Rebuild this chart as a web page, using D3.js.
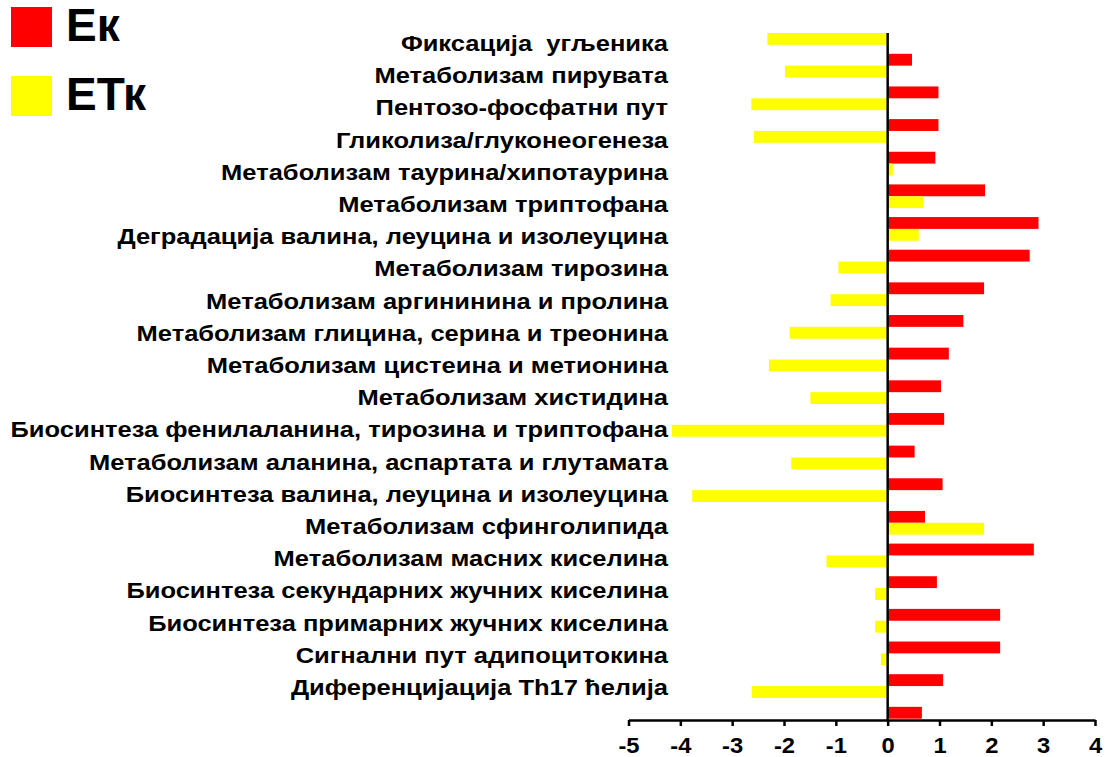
<!DOCTYPE html>
<html>
<head>
<meta charset="utf-8">
<script src="https://cdn.jsdelivr.net/npm/d3@7"></script>
<style>
  html, body { margin: 0; padding: 0; background: #fff; }
  svg { display: block; }
  text { font-family: "Liberation Sans", Arial, sans-serif; font-weight: bold; fill: #000; white-space: pre; }
</style>
</head>
<body>
<svg id="chart" width="1107" height="757"></svg>
<script>
const categories = [
  "Фиксација  угљеника",
  "Метаболизам пирувата",
  "Пентозо-фосфатни пут",
  "Гликолиза/глуконеогенеза",
  "Метаболизам таурина/хипотаурина",
  "Метаболизам триптофана",
  "Деградација валина, леуцина и изолеуцина",
  "Метаболизам тирозина",
  "Метаболизам аргининина и пролина",
  "Метаболизам глицина, серина и треонина",
  "Метаболизам цистеина и метионина",
  "Метаболизам хистидина",
  "Биосинтеза фенилаланина, тирозина и триптофана",
  "Метаболизам аланина, аспартата и глутамата",
  "Биосинтеза валина, леуцина и изолеуцина",
  "Метаболизам сфинголипида",
  "Метаболизам масних киселина",
  "Биосинтеза секундарних жучних киселина",
  "Биосинтеза примарних жучних киселина",
  "Сигнални пут адипоцитокина",
  "Диференцијација Th17 ћелија"
];
const seriesNames = ["ЕТк", "Ек"];
const valuesETk = [-2.32, -1.98, -2.63, -2.58, 0.10, 0.69, 0.60, -0.95, -1.10, -1.89, -2.29, -1.49, -4.16, -1.86, -3.77, 1.86, -1.18, -0.24, -0.24, -0.13, -2.62];
const valuesEk  = [0.47, 0.98, 0.98, 0.92, 1.88, 2.91, 2.74, 1.86, 1.46, 1.18, 1.03, 1.09, 0.52, 1.06, 0.72, 2.82, 0.95, 2.17, 2.17, 1.07, 0.66];
const xTicks = [-5, -4, -3, -2, -1, 0, 1, 2, 3, 4];
const xTickLabels = ["-5", "-4", "-3", "-2", "-1", "0", "1", "2", "3", "4"];
const legendItems = ["Ек", "ЕТк"];
const colors = { "Ек": "#ff0000", "ЕТк": "#ffff00" };

const svg = d3.select("#chart");

const x = d3.scaleLinear().domain([-5, 4]).range([628.5, 1095]);
const y = d3.scaleBand().domain(categories).range([33, 718.7]).padding(0);
const ySub = d3.scaleBand().domain(seriesNames).range([0, y.bandwidth()]).paddingInner(0.43).paddingOuter(0);
// category text positions (labels sit on their own evenly spaced column)
const yLabel = d3.scalePoint().domain(categories).range([43.6, 687.4]);

const rows = categories.map((c, i) => ({ cat: c, "ЕТк": valuesETk[i], "Ек": valuesEk[i] }));

const g = svg.append("g");
rows.forEach(r => {
  seriesNames.forEach(s => {
    const v = r[s];
    g.append("rect")
      .attr("x", x(Math.min(0, v)))
      .attr("y", y(r.cat) + ySub(s))
      .attr("width", Math.abs(x(v) - x(0)))
      .attr("height", ySub.bandwidth())
      .attr("fill", colors[s]);
  });
});

// category labels
svg.append("g").selectAll("text")
  .data(categories)
  .join("text")
  .attr("transform", d => `translate(668,${yLabel(d) + 7.5}) scale(1.16,1)`)
  .attr("text-anchor", "end")
  .attr("font-size", 22)
  .text(d => d);

// zero line
svg.append("line")
  .attr("x1", x(0)).attr("x2", x(0))
  .attr("y1", 33).attr("y2", 720)
  .attr("stroke", "#000").attr("stroke-width", 2.5);

// x axis
const axis = svg.append("g")
  .attr("transform", "translate(0,720)")
  .call(d3.axisBottom(x).tickValues(xTicks).tickSize(6).tickSizeOuter(0)
    .tickFormat((d, i) => xTickLabels[i]));
axis.select(".domain").attr("stroke", "#000").attr("stroke-width", 2.5);
axis.selectAll(".tick line").attr("stroke", "#000").attr("stroke-width", 2.5);
axis.selectAll(".tick text")
  .attr("font-size", 22)
  .attr("font-family", "Liberation Sans, Arial, sans-serif")
  .attr("font-weight", "bold")
  .attr("fill", "#000")
  .attr("dy", 0)
  .attr("y", 0)
  .attr("transform", "translate(0,33) scale(1.08,1)");

// legend
const legend = svg.append("g");
legendItems.forEach((name, i) => {
  const top = 7 + i * 69;
  legend.append("rect")
    .attr("x", 11).attr("y", top)
    .attr("width", 41).attr("height", 40)
    .attr("fill", colors[name]);
  legend.append("text")
    .attr("x", 66).attr("y", top + 34)
    .attr("font-size", 46)
    .text(name);
});
</script>
</body>
</html>
